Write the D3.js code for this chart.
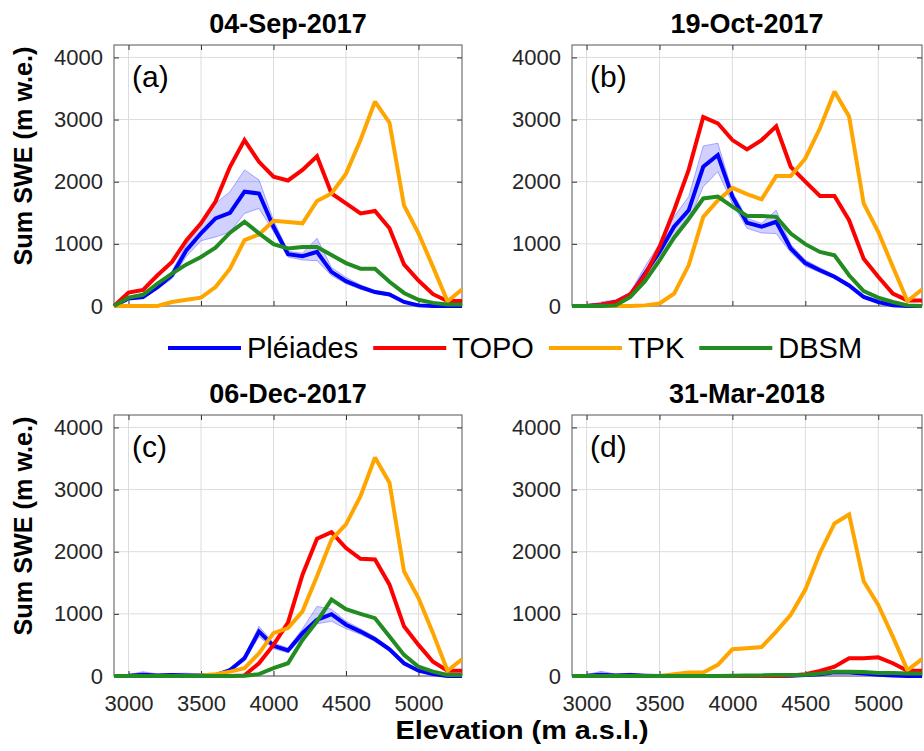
<!DOCTYPE html>
<html><head><meta charset="utf-8">
<script src="https://cdn.jsdelivr.net/npm/d3@7"></script>
<style>body{margin:0;background:#fff}svg{display:block}text{font-family:"Liberation Sans",Arial,sans-serif}</style>
</head><body>
<script>
const elev = [2900,3000,3100,3200,3300,3400,3500,3600,3700,3800,3900,4000,4100,4200,4300,4400,4500,4600,4700,4800,4900,5000,5100,5200,5300];
const xTicks = [3000,3500,4000,4500,5000];
const yTicks = [0,1000,2000,3000,4000];
const titles = ["04-Sep-2017","19-Oct-2017","06-Dec-2017","31-Mar-2018"];
const letters = ["(a)","(b)","(c)","(d)"];
const seriesNames = ["Pléiades","TOPO","TPK","DBSM"];
const seriesColors = ["#0000ff","#ff0000","#ffa500","#228b22"];

// Panel (a)
const pleA   = [0,120,145,305,495,900,1170,1410,1500,1840,1810,1275,835,800,870,550,400,305,225,185,65,10,0,0,0];
const pleAlo = [0,100,120,270,440,800,1050,1110,1190,1490,1570,1200,790,740,730,490,360,270,200,165,50,5,0,0,0];
const pleAhi = [0,130,170,340,560,1000,1300,1650,1840,2190,2030,1380,880,850,1090,620,460,340,250,210,80,15,0,0,0];
const topoA  = [0,215,260,495,710,1060,1330,1680,2240,2670,2320,2080,2020,2190,2410,1810,1650,1490,1530,1250,670,410,190,80,80];
const tpkA   = [0,0,0,0,65,100,135,305,600,1060,1150,1370,1350,1330,1690,1810,2130,2670,3290,2950,1620,1170,630,75,265];
const dbsmA  = [0,135,180,360,520,670,790,940,1180,1355,1170,995,925,950,950,820,690,600,600,390,210,100,50,25,25];

// Panel (b)
const pleB   = [0,0,20,65,170,520,870,1275,1540,2240,2430,1760,1340,1275,1355,925,690,575,470,330,145,65,10,0,0];
const pleBlo = [0,0,5,40,130,440,735,1060,1355,1920,2160,1650,1250,1175,1165,860,640,540,440,305,125,55,5,0,0];
const pleBhi = [0,5,65,100,225,630,1005,1435,1760,2575,2620,1840,1410,1330,1540,990,740,615,500,355,165,75,15,0,0];
const topoB  = [0,0,20,65,190,495,950,1540,2190,3040,2940,2670,2520,2670,2890,2240,2000,1770,1770,1380,760,470,200,90,90];
const tpkB   = [0,0,0,0,0,10,40,200,655,1435,1700,1900,1800,1715,2090,2090,2375,2860,3450,3050,1650,1195,630,80,265];
const dbsmB  = [0,0,0,10,145,400,735,1100,1400,1730,1760,1600,1450,1450,1435,1165,995,870,815,495,240,135,65,10,0];

// Panel (c)
const pleC   = [0,5,20,10,15,10,10,15,95,285,715,485,410,690,905,995,825,715,590,430,205,85,30,0,0];
const pleClo = [0,0,5,0,5,0,0,5,70,240,635,440,375,620,840,880,760,670,555,400,185,75,25,0,0];
const pleChi = [0,20,70,30,40,45,30,30,120,330,800,530,450,760,1120,1075,880,760,630,460,225,95,35,0,0];
const topoC  = [0,0,0,0,0,0,0,0,0,10,205,500,860,1630,2210,2315,2060,1885,1875,1470,800,500,230,85,85];
const tpkC   = [0,0,0,0,0,0,10,30,70,125,365,690,770,1040,1605,2195,2440,2895,3515,3110,1685,1255,690,85,270];
const dbsmC  = [0,0,0,0,0,0,0,0,0,5,30,125,205,580,880,1230,1075,1000,930,635,340,150,70,15,15];

// Panel (d)
const pleD   = [0,5,20,10,15,5,0,0,0,0,0,0,0,0,0,5,15,30,60,55,40,20,10,0,0];
const pleDlo = [0,0,5,0,5,0,0,0,0,0,0,0,0,0,0,0,10,20,45,40,30,10,5,0,0];
const pleDhi = [0,20,75,30,45,25,5,0,0,0,0,0,0,0,5,10,25,45,80,70,50,30,15,5,0];
const topoD  = [0,0,0,0,0,0,0,0,0,0,0,0,0,0,0,10,30,80,150,285,285,300,205,85,85];
const tpkD   = [0,0,0,0,0,0,0,30,55,55,180,430,445,465,715,985,1390,1980,2455,2600,1525,1145,635,95,270];
const dbsmD  = [0,0,0,0,0,0,0,0,0,0,0,5,10,10,15,15,20,40,70,70,65,50,50,40,40];

const panelData = [
  {ple:pleA, lo:pleAlo, hi:pleAhi, series:[pleA,topoA,tpkA,dbsmA]},
  {ple:pleB, lo:pleBlo, hi:pleBhi, series:[pleB,topoB,tpkB,dbsmB]},
  {ple:pleC, lo:pleClo, hi:pleChi, series:[pleC,topoC,tpkC,dbsmC]},
  {ple:pleD, lo:pleDlo, hi:pleDhi, series:[pleD,topoD,tpkD,dbsmD]}
];
const boxes = [
  {x0:114,x1:462,y0:45,y1:306},
  {x0:572,x1:922,y0:45,y1:306},
  {x0:114,x1:462,y0:415,y1:676},
  {x0:572,x1:922,y0:415,y1:676}
];

const svg = d3.select("body").append("svg").attr("width",924).attr("height",751);
const fmt = d3.format("d");

panelData.forEach((pd,i)=>{
  const b = boxes[i];
  const x = d3.scaleLinear().domain([2900,5300]).range([b.x0,b.x1]);
  const y = d3.scaleLinear().domain([0,4200]).range([b.y1,b.y0]);
  const g = svg.append("g");
  // grid
  g.selectAll(".gx").data(xTicks).enter().append("line")
    .attr("x1",d=>x(d)).attr("x2",d=>x(d)).attr("y1",b.y0).attr("y2",b.y1)
    .attr("stroke","#dcdcdc").attr("stroke-width",1);
  g.selectAll(".gy").data(yTicks).enter().append("line")
    .attr("x1",b.x0).attr("x2",b.x1).attr("y1",d=>y(d)).attr("y2",d=>y(d))
    .attr("stroke","#dcdcdc").attr("stroke-width",1);
  // axes with inward ticks
  const ax = d3.axisBottom(x).tickValues(xTicks).tickSizeInner(-5).tickSizeOuter(0).tickPadding(14).tickFormat(fmt);
  const axTop = d3.axisTop(x).tickValues(xTicks).tickSizeInner(-5).tickSizeOuter(0).tickFormat("");
  const ay = d3.axisLeft(y).tickValues(yTicks).tickSizeInner(-5).tickSizeOuter(0).tickPadding(11).tickFormat(fmt);
  const ayR = d3.axisRight(y).tickValues(yTicks).tickSizeInner(-5).tickSizeOuter(0).tickFormat("");
  const gxB = g.append("g").attr("transform",`translate(0,${b.y1})`).call(ax);
  if (i<2) gxB.selectAll("text").remove();
  g.append("g").attr("transform",`translate(0,${b.y0})`).call(axTop);
  g.append("g").attr("transform",`translate(${b.x0},0)`).call(ay);
  g.append("g").attr("transform",`translate(${b.x1},0)`).call(ayR);
  g.selectAll(".domain").remove();
  g.selectAll(".tick line").attr("stroke","#333");
  g.selectAll(".tick text").attr("fill","#262626").style("font-size","22px").style("font-family","'Liberation Sans',Arial,sans-serif");
  gxB.selectAll(".tick text").attr("dy","0").attr("y",35);
  g.append("rect").attr("x",b.x0).attr("y",b.y0).attr("width",b.x1-b.x0).attr("height",b.y1-b.y0)
    .attr("fill","none").attr("stroke","#555").attr("stroke-width",1);

  // band
  const area = d3.area().x((d,k)=>x(elev[k])).y0((d,k)=>y(pd.lo[k])).y1((d,k)=>y(pd.hi[k]));
  g.append("path").datum(pd.ple).attr("d",area).attr("fill","#0000ff").attr("fill-opacity",0.18);
  const line = arr => d3.line().x((d,k)=>x(elev[k])).y(d=>y(d))(arr);
  [pd.lo,pd.hi].forEach(arr=>{
    g.append("path").attr("d",line(arr)).attr("fill","none").attr("stroke","#0000ff").attr("stroke-opacity",0.3).attr("stroke-width",1);
  });
  pd.series.forEach((s,k)=>{
    g.append("path").attr("d",line(s)).attr("fill","none").attr("stroke",seriesColors[k])
      .attr("stroke-width",4).attr("stroke-linejoin","miter").attr("stroke-miterlimit",2);
  });
  // letter
  g.append("text").attr("x",b.x0+18).attr("y",b.y0+42).text(letters[i])
    .style("font-size","30px").attr("fill","#000");
  // title
  svg.append("text").attr("x",(b.x0+b.x1)/2).attr("y",b.y0-12).attr("text-anchor","middle")
    .style("font-size","27px").style("font-weight","bold").text(titles[i]);
});

// y labels
[156,526].forEach(cy=>{
  svg.append("text").attr("transform",`translate(32,${cy}) rotate(-90)`).attr("text-anchor","middle")
    .style("font-size","26px").style("font-weight","bold")
    .attr("textLength",219).attr("lengthAdjust","spacingAndGlyphs").text("Sum SWE (m w.e.)");
});
// x label
svg.append("text").attr("x",522).attr("y",739).attr("text-anchor","middle")
  .style("font-size","26px").style("font-weight","bold")
  .attr("textLength",253).attr("lengthAdjust","spacingAndGlyphs").text("Elevation (m a.s.l.)");

// legend
let lx = 168;
const leg = svg.append("g");
seriesNames.forEach((n,k)=>{
  leg.append("line").attr("x1",lx).attr("x2",lx+73).attr("y1",348).attr("y2",348)
    .attr("stroke",seriesColors[k]).attr("stroke-width",4);
  const t = leg.append("text").attr("x",lx+79).attr("y",358).style("font-size","29px").text(n);
  lx = lx + 79 + t.node().getComputedTextLength() + 15;
});
</script>
</body></html>
